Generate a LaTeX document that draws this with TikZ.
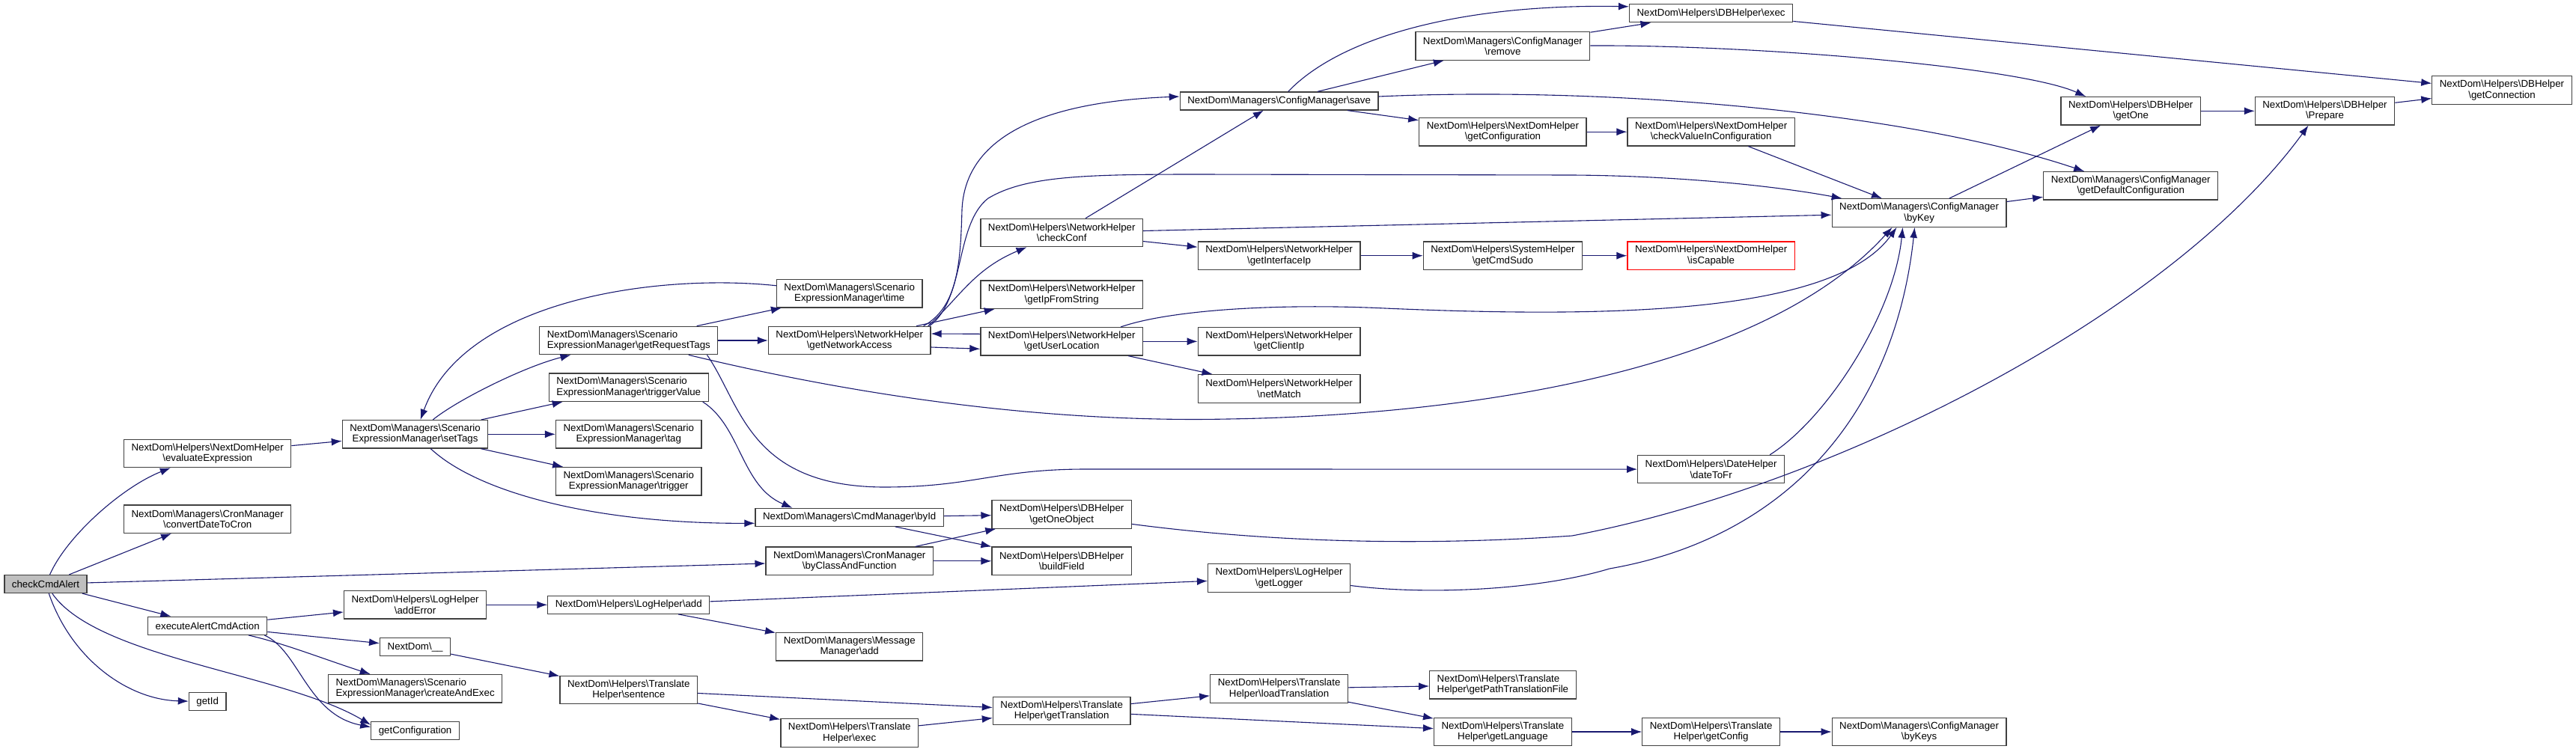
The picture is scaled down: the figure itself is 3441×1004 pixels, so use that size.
\documentclass[tikz,border=0pt]{standalone}
\usepackage{fontspec}
\setmainfont{Liberation Sans}
\usepackage{xcolor}
\usepackage{tikz}
\usetikzlibrary{
    arrows.meta,
    positioning,
    calc
}
\definecolor{edgeblue}{HTML}{191970}
\newcommand{\bsl}{\textbackslash}

\begin{document}
\begin{tikzpicture}[
        x=1pt,
        y=-1pt,
        func/.style={
            rectangle,
            draw=black!75,
            line width=1.2pt,
            font=\fontsize{13.3pt}{14.4pt}\selectfont,
            align=center,
            inner xsep=10pt,
            inner ysep=2pt,
            minimum height=24pt
        },
        twoline/.style={
            func,
            minimum height=37.5pt
        },
        line/.style={
            -{Latex[length=14pt,width=10pt]},
            draw=edgeblue,
            line width=1.1pt
        }
    ]

    \useasboundingbox (0,0) rectangle (3441,1004);

    \node[func, fill=black!25] (checkcmd) at (61,780.5) {checkCmdAlert};

    \node[twoline] (evalexpr) at (277.2,606)
        {NextDom\bsl Helpers\bsl NextDomHelper\\
         \bsl evaluateExpression};
    \node[twoline] (datetocron) at (277.2,693.7)
        {NextDom\bsl Managers\bsl CronManager\\
         \bsl convertDateToCron};
    \node[func] (execalert) at (277.2,836.3) {executeAlertCmdAction};
    \node[func] (getid) at (277.2,937.8) {getId};

    \node[twoline] (settags) at (554.6,580.3)
        {NextDom\bsl Managers\bsl Scenario\\
         ExpressionManager\bsl setTags};
    \node[twoline] (adderror) at (554.6,808.3)
        {NextDom\bsl Helpers\bsl LogHelper\\
         \bsl addError};
    \node[func] (underscore) at (554.6,864.5) {NextDom\bsl \_\_};
    \node[twoline, align=left] (createexec) at (554.6,920.3)
        {NextDom\bsl Managers\bsl Scenario\\
         ExpressionManager\bsl createAndExec};
    \node[func] (getconf) at (554.6,976.7) {getConfiguration};

    \node[twoline, align=left] (reqtags) at (839.8,455)
        {NextDom\bsl Managers\bsl Scenario\\
         ExpressionManager\bsl getRequestTags};
    \node[twoline, align=left] (trigvalue) at (839.8,517.7)
        {NextDom\bsl Managers\bsl Scenario\\
         ExpressionManager\bsl triggerValue};
    \node[twoline] (tag) at (839.8,580.3)
        {NextDom\bsl Managers\bsl Scenario\\
         ExpressionManager\bsl tag};
    \node[twoline] (trigger) at (839.8,643.2)
        {NextDom\bsl Managers\bsl Scenario\\
         ExpressionManager\bsl trigger};
    \node[func] (logadd) at (839.8,808.3) {NextDom\bsl Helpers\bsl LogHelper\bsl add};
    \node[twoline] (sentence) at (839.8,922)
        {NextDom\bsl Helpers\bsl Translate\\
         Helper\bsl sentence};

    \node[twoline] (exprtime) at (1134.7,392.2)
        {NextDom\bsl Managers\bsl Scenario\\
         ExpressionManager\bsl time};
    \node[twoline] (netaccess) at (1134.7,455)
        {NextDom\bsl Helpers\bsl NetworkHelper\\
         \bsl getNetworkAccess};
    \node[func] (byid) at (1134.7,691.3) {NextDom\bsl Managers\bsl CmdManager\bsl byId};
    \node[twoline] (byclass) at (1134.7,749.8)
        {NextDom\bsl Managers\bsl CronManager\\
         \bsl byClassAndFunction};
    \node[twoline] (msgadd) at (1134.7,864.3)
        {NextDom\bsl Managers\bsl Message\\
         Manager\bsl add};
    \node[twoline] (trexec) at (1134.7,979.4)
        {NextDom\bsl Helpers\bsl Translate\\
         Helper\bsl exec};

    \node[twoline] (checkconf) at (1418.2,311)
        {NextDom\bsl Helpers\bsl NetworkHelper\\
         \bsl checkConf};
    \node[twoline] (getipstr) at (1418.2,393.7)
        {NextDom\bsl Helpers\bsl NetworkHelper\\
         \bsl getIpFromString};
    \node[twoline] (userloc) at (1418.2,456.3)
        {NextDom\bsl Helpers\bsl NetworkHelper\\
         \bsl getUserLocation};
    \node[twoline] (getoneobj) at (1418.2,687.4)
        {NextDom\bsl Helpers\bsl DBHelper\\
         \bsl getOneObject};
    \node[twoline] (buildfield) at (1418.2,749.8)
        {NextDom\bsl Helpers\bsl DBHelper\\
         \bsl buildField};
    \node[twoline] (gettrans) at (1418.2,950)
        {NextDom\bsl Helpers\bsl Translate\\
         Helper\bsl getTranslation};

    \node[func] (save) at (1708.6,135) {NextDom\bsl Managers\bsl ConfigManager\bsl save};
    \node[twoline] (ifaceip) at (1708.6,341.7)
        {NextDom\bsl Helpers\bsl NetworkHelper\\
         \bsl getInterfaceIp};
    \node[twoline] (clientip) at (1708.6,456.3)
        {NextDom\bsl Helpers\bsl NetworkHelper\\
         \bsl getClientIp};
    \node[twoline] (netmatch) at (1708.6,519.4)
        {NextDom\bsl Helpers\bsl NetworkHelper\\
         \bsl netMatch};
    \node[twoline] (getlogger) at (1708.6,772.5)
        {NextDom\bsl Helpers\bsl LogHelper\\
         \bsl getLogger};
    \node[twoline] (loadtrans) at (1708.6,920.4)
        {NextDom\bsl Helpers\bsl Translate\\
         Helper\bsl loadTranslation};

    \node[twoline] (remove) at (2007.4,61.5)
        {NextDom\bsl Managers\bsl ConfigManager\\
         \bsl remove};
    \node[twoline] (ndhconf) at (2007.4,176.2)
        {NextDom\bsl Helpers\bsl NextDomHelper\\
         \bsl getConfiguration};
    \node[twoline] (cmdsudo) at (2007.4,341.7)
        {NextDom\bsl Helpers\bsl SystemHelper\\
         \bsl getCmdSudo};
    \node[twoline, align=left] (pathfile) at (2007.4,915.3)
        {NextDom\bsl Helpers\bsl Translate\\
         Helper\bsl getPathTranslationFile};
    \node[twoline] (getlang) at (2007.4,978)
        {NextDom\bsl Helpers\bsl Translate\\
         Helper\bsl getLanguage};

    \node[func] (dbexec) at (2285.6,17.8) {NextDom\bsl Helpers\bsl DBHelper\bsl exec};
    \node[twoline] (checkvalue) at (2285.6,176.2)
        {NextDom\bsl Helpers\bsl NextDomHelper\\
         \bsl checkValueInConfiguration};
    \node[twoline, draw=red] (iscapable) at (2285.6,341.7)
        {NextDom\bsl Helpers\bsl NextDomHelper\\
         \bsl isCapable};
    \node[twoline] (datetofr) at (2285.6,627.1)
        {NextDom\bsl Helpers\bsl DateHelper\\
         \bsl dateToFr};
    \node[twoline] (getconfig) at (2285.6,978)
        {NextDom\bsl Helpers\bsl Translate\\
         Helper\bsl getConfig};

    \node[twoline] (bykey) at (2563.6,284.5)
        {NextDom\bsl Managers\bsl ConfigManager\\
         \bsl byKey};
    \node[twoline] (bykeys) at (2563.6,978)
        {NextDom\bsl Managers\bsl ConfigManager\\
         \bsl byKeys};

    \node[twoline] (getone) at (2846.2,148.3)
        {NextDom\bsl Helpers\bsl DBHelper\\
         \bsl getOne};
    \node[twoline] (defconf) at (2846.2,248.3)
        {NextDom\bsl Managers\bsl ConfigManager\\
         \bsl getDefaultConfiguration};
    \node[twoline] (prepare) at (3105.5,148.3)
        {NextDom\bsl Helpers\bsl DBHelper\\
         \bsl Prepare};
    \node[twoline] (getconn) at (3342,120.5)
        {NextDom\bsl Helpers\bsl DBHelper\\
         \bsl getConnection};

    \draw[line] (checkcmd) .. controls (90,715) and (165,650) .. (evalexpr);
    \draw[line] (checkcmd) -- (datetocron);
    \draw[line] (checkcmd) -- (byclass);
    \draw[line] (checkcmd) -- (execalert);
    \draw[line] (checkcmd) .. controls (95,880) and (170,935) .. (getid);
    \draw[line] (checkcmd) .. controls (130,880) and (380,900) .. ([yshift=8pt]getconf.west);

    \draw[line] (execalert) -- (adderror);
    \draw[line] (execalert) -- (underscore);
    \draw[line] (execalert) .. controls (380,860) and (430,880) .. (createexec);
    \draw[line] ([xshift=-4pt]execalert.south east) .. controls (400,870) and (410,955) .. ([yshift=5pt]getconf.west);

    \draw[line] (evalexpr) -- (settags);
    \draw[line] (settags) .. controls (610,535) and (700,490) .. (reqtags);
    \draw[line] (exprtime) .. controls (880,365) and (620,400) .. (settags);
    \draw[line] (settags) -- (trigvalue);
    \draw[line] (settags) -- (tag);
    \draw[line] (settags) -- (trigger);
    \draw[line] (settags) .. controls (640,660) and (800,700) .. ([yshift=-8pt]byid.west);
    \draw[line] ([xshift=-8pt]trigvalue.south east) .. controls (990,570) and (990,650) .. ([xshift=50pt]byid.north west);

    \draw[line] (reqtags) -- (exprtime);
    \draw[line] (reqtags) -- (netaccess);
    \draw[line] (reqtags) .. controls (1150,530) and (1400,565) .. (1640,560)
        .. controls (1950,555) and (2350,500) .. ([xshift=-36pt]bykey.south);
    \draw[line] ([xshift=-15pt]reqtags.south east) .. controls (990,540) and (1000,650) .. (1180,651)
        .. controls (1300,651) and (1330,627) .. (1450,627) -- (datetofr);

    \draw[line] ([xshift=-10pt]netaccess.north east) .. controls (1280,410) and (1283,350) .. (1285,280)
        .. controls (1290,170) and (1420,135) .. ([yshift=6pt]save.west);
    \draw[line] ([xshift=-4pt]netaccess.north east) .. controls (1280,400) and (1300,360) .. (checkconf);
    \draw[line] (netaccess) -- (getipstr);
    \draw[line] ([xshift=-2pt]netaccess.north east) .. controls (1290,400) and (1275,300) .. (1320,265)
        .. controls (1370,235) and (1450,233) .. (1600,233) -- (2100,234)
        .. controls (2250,235) and (2380,250) .. (bykey);
    \draw[line] ([yshift=-9pt]netaccess.east) -- ([yshift=-10pt]userloc.west);

    \draw[line] ([yshift=10pt]userloc.west) -- ([yshift=9pt]netaccess.east);
    \draw[line] (userloc) -- (clientip);
    \draw[line] (userloc) -- (netmatch);
    \draw[line] ([xshift=-30pt]userloc.north east) .. controls (1560,415) and (1700,405) .. (1850,412)
        .. controls (2150,425) and (2450,420) .. ([xshift=-30pt]bykey.south);

    \draw[line] (checkconf) -- (save);
    \draw[line] (checkconf) -- (bykey);
    \draw[line] (checkconf) -- (ifaceip);

    \draw[line] (save) .. controls (1790,50) and (1950,5) .. ([yshift=9pt]dbexec.west);
    \draw[line] (save) -- (remove);
    \draw[line] ([yshift=6pt]save.east) .. controls (2150,115) and (2550,150) .. ([xshift=-62pt]defconf.north);
    \draw[line] (save) -- (ndhconf);

    \draw[line] (remove) -- (dbexec);
    \draw[line] (remove) .. controls (2350,60) and (2700,90) .. ([xshift=-60pt]getone.north);
    \draw[line] (dbexec) -- (getconn);
    \draw[line] (ndhconf) -- (checkvalue);
    \draw[line] (checkvalue) -- (bykey);
    \draw[line] (bykey) -- (getone);
    \draw[line] (bykey) -- (defconf);
    \draw[line] (getone) -- (prepare);
    \draw[line] (prepare) -- (getconn);
    \draw[line] (ifaceip) -- (cmdsudo);
    \draw[line] (cmdsudo) -- (iscapable);

    \draw[line] (byid) -- (getoneobj);
    \draw[line] (byid) -- (buildfield);
    \draw[line] (byclass) -- (getoneobj);
    \draw[line] (byclass) -- (buildfield);
    \draw[line] ([yshift=-13pt]getoneobj.east) .. controls (1700,725) and (1900,730) .. (2100,716)
        .. controls (2450,650) and (2900,420) .. ([xshift=-22pt]prepare.south);

    \draw[line] (adderror) -- (logadd);
    \draw[line] (logadd) -- (getlogger);
    \draw[line] (logadd) -- (msgadd);
    \draw[line] ([yshift=-10pt]getlogger.east) .. controls (1900,795) and (2050,790) .. (2150,760)
        .. controls (2380,720) and (2530,560) .. ([xshift=-6pt]bykey.south);
    \draw[line] ([xshift=-20pt]datetofr.north east) .. controls (2440,560) and (2530,420) .. ([xshift=-22pt]bykey.south);

    \draw[line] (underscore) -- (sentence);
    \draw[line] (sentence) -- (gettrans);
    \draw[line] (sentence) -- (trexec);
    \draw[line] (trexec) -- (gettrans);
    \draw[line] (gettrans) -- (loadtrans);
    \draw[line] (gettrans) -- (getlang);
    \draw[line] (loadtrans) -- (pathfile);
    \draw[line] (loadtrans) -- (getlang);
    \draw[line] (getlang) -- (getconfig);
    \draw[line] (getconfig) -- (bykeys);

\end{tikzpicture}
\end{document}
